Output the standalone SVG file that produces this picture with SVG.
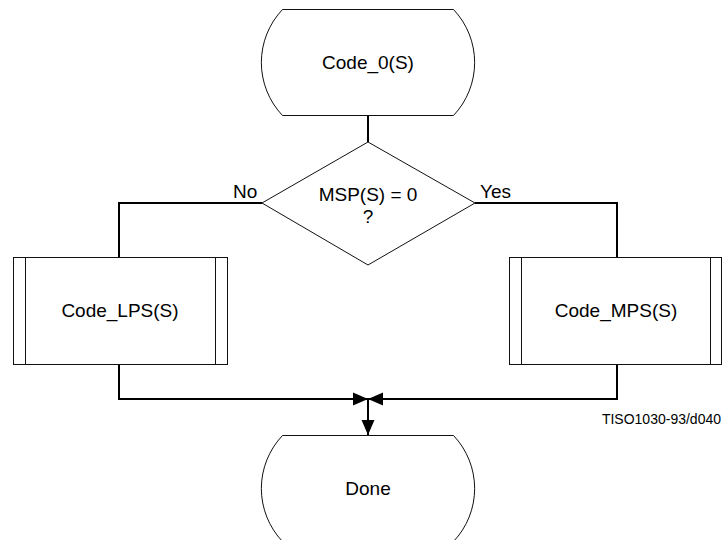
<svg xmlns="http://www.w3.org/2000/svg" width="722" height="540" viewBox="0 0 722 540">
<defs>
<marker id="arr" markerUnits="userSpaceOnUse" markerWidth="16" markerHeight="14" refX="15" refY="7" orient="auto">
<path d="M0,0.5 L15,7 L0,13.5 Z" fill="#000"/>
</marker>
<style>
.shape{fill:#fff;stroke:#111;stroke-width:1}
.conn{fill:none;stroke:#000;stroke-width:2}
text{font-family:"Liberation Sans",Arial,sans-serif;font-size:19px;fill:#000}
.c{text-anchor:middle}
</style>
</defs>
<rect width="722" height="540" fill="#fff"/>
<g id="connectors">
<path class="conn" d="M368,115 L368,142"/>
<path class="conn" d="M262,203 L119,203 L119,257"/>
<path class="conn" d="M475,203 L617,203 L617,257"/>
<path class="conn" d="M119,364 L119,399 L368,399" marker-end="url(#arr)"/>
<path class="conn" d="M617,364 L617,399 L368,399" marker-end="url(#arr)"/>
<path class="conn" d="M368,399 L368,435" marker-end="url(#arr)"/>
</g>
<g id="start">
<path class="shape" d="M282.5,9.5 L453.5,9.5 A77,77 0 0 1 453.5,115.5 L282.5,115.5 A77,77 0 0 1 282.5,9.5 Z"/>
<text class="c" x="368" y="69">Code_0(S)</text>
</g>
<g id="decision">
<path class="shape" d="M368,142 L475,203 L368,265 L262,203 Z"/>
<text class="c" x="368" y="201">MSP(S) = 0</text>
<text class="c" x="368" y="223">?</text>
</g>
<g id="label-no"><text x="233" y="198">No</text></g>
<g id="label-yes"><text x="480" y="198">Yes</text></g>
<g id="code-lps">
<rect class="shape" x="13.5" y="257.5" width="214" height="107"/>
<line class="shape" x1="25.5" y1="257.5" x2="25.5" y2="364.5"/>
<line class="shape" x1="215.5" y1="257.5" x2="215.5" y2="364.5"/>
<text class="c" x="120" y="317">Code_LPS(S)</text>
</g>
<g id="code-mps">
<rect class="shape" x="509.5" y="257.5" width="212" height="107"/>
<line class="shape" x1="521.5" y1="257.5" x2="521.5" y2="364.5"/>
<line class="shape" x1="710.5" y1="257.5" x2="710.5" y2="364.5"/>
<text class="c" x="616" y="317">Code_MPS(S)</text>
</g>
<g id="done">
<path class="shape" d="M282.5,435.5 L453.5,435.5 A77,77 0 0 1 453.5,541.5 L282.5,541.5 A77,77 0 0 1 282.5,435.5 Z"/>
<text class="c" x="368" y="495">Done</text>
</g>
<text x="721" y="424" text-anchor="end" style="font-size:14px">TISO1030-93/d040</text>
</svg>
